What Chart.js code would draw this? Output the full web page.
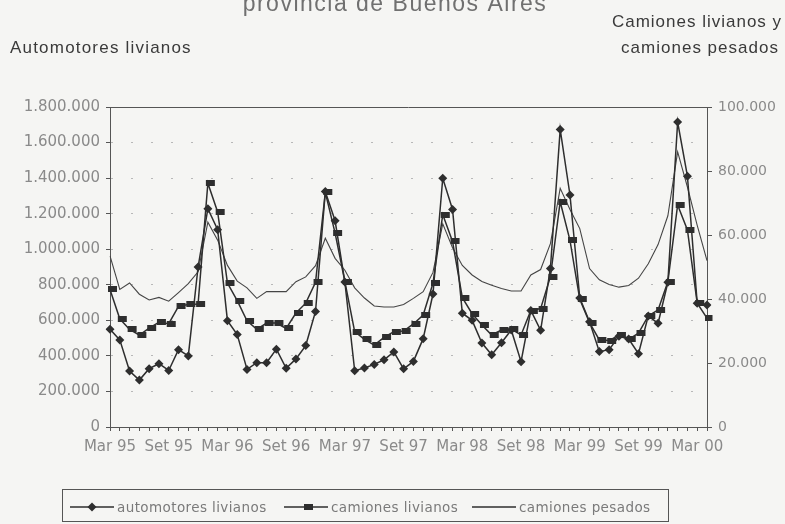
<!DOCTYPE html>
<html>
<head>
<meta charset="utf-8">
<script src="https://cdn.jsdelivr.net/npm/chart.js@4/dist/chart.umd.min.js"></script>
<style>
  body { margin: 0; background: #f5f5f3; }
  #grafico { display: block; }
</style>
</head>
<body>
<canvas id="grafico" width="785" height="524"></canvas>
<script>
// Meses (Mar 95 a Abr 00)
const meses = [
    'Mar 95', 'Abr 95', 'May 95', 'Jun 95', 'Jul 95', 'Ago 95', 'Set 95', 'Oct 95', 'Nov 95', 'Dic 95',
    'Ene 96', 'Feb 96', 'Mar 96', 'Abr 96', 'May 96', 'Jun 96', 'Jul 96', 'Ago 96', 'Set 96', 'Oct 96', 'Nov 96', 'Dic 96',
    'Ene 97', 'Feb 97', 'Mar 97', 'Abr 97', 'May 97', 'Jun 97', 'Jul 97', 'Ago 97', 'Set 97', 'Oct 97', 'Nov 97', 'Dic 97',
    'Ene 98', 'Feb 98', 'Mar 98', 'Abr 98', 'May 98', 'Jun 98', 'Jul 98', 'Ago 98', 'Set 98', 'Oct 98', 'Nov 98', 'Dic 98',
    'Ene 99', 'Feb 99', 'Mar 99', 'Abr 99', 'May 99', 'Jun 99', 'Jul 99', 'Ago 99', 'Set 99', 'Oct 99', 'Nov 99', 'Dic 99',
    'Ene 00', 'Feb 00', 'Mar 00', 'Abr 00'
];
// eje izquierdo
const automotoresLivianos = [
    550000, 490000, 315000, 264000, 328000, 356000, 318000, 435000, 400000, 900000,
    1228000, 1110000, 598000, 520000, 324000, 362000, 362000, 438000, 330000, 383000, 458000, 650000,
    1324000, 1160000, 815000, 317000, 332000, 352000, 378000, 422000, 327000, 369000, 497000, 748000,
    1399000, 1224000, 640000, 600000, 472000, 406000, 474000, 546000, 367000, 656000, 544000, 892000,
    1674000, 1305000, 726000, 592000, 424000, 435000, 510000, 495000, 412000, 625000, 583000, 814000,
    1715000, 1411000, 696000, 686000
];
// eje derecho
const camionesLivianos = [
    43000, 33800, 30500, 28750, 30900, 32700, 32300, 37700, 38300, 38400,
    76200, 67200, 45000, 39500, 33200, 30500, 32500, 32500, 30800, 35600, 38700, 45200,
    73300, 60600, 45400, 29800, 27400, 25600, 28000, 29800, 30000, 32200, 35000, 44900,
    66400, 58000, 40400, 35400, 31900, 28750, 30300, 30600, 28750, 36400, 37000, 47000,
    70400, 58300, 39900, 32600, 27200, 27000, 28750, 27400, 29300, 34700, 36600, 45400,
    69400, 61600, 38700, 34000
];
const camionesPesados = [
    53500, 43000, 45000, 41500, 39700, 40500, 39300, 42000, 44800, 48500,
    64000, 58400, 50500, 45600, 43500, 40200, 42300, 42300, 42300, 45400, 46900, 50400,
    59000, 52700, 49000, 43500, 40300, 37800, 37500, 37500, 38300, 40200, 42300, 48300,
    63500, 56000, 50500, 47500, 45500, 44300, 43300, 42500, 42500, 47500, 49200, 57300,
    74600, 68000, 62000, 49500, 46000, 44500, 43700, 44200, 46500, 51000, 57000, 66000,
    86000, 75000, 63000, 52000
];
const etiquetasEje = ['Mar 95', 'Set 95', 'Mar 96', 'Set 96', 'Mar 97', 'Set 97', 'Mar 98', 'Set 98', 'Mar 99', 'Set 99', 'Mar 00'];
const nombresSeries = ['automotores livianos', 'camiones livianos', 'camiones pesados'];

const TINTA = '#2e2e2e';
const GRIS_TEXTO = '#8a8a8a';

function miles(v) {
    return String(v).replace(/\B(?=(\d{3})+(?!\d))/g, '.');
}

// marca rectangular de camiones livianos
const marcaCamion = document.createElement('canvas');
marcaCamion.width = 16;
marcaCamion.height = 6;
const mc = marcaCamion.getContext('2d');
mc.fillStyle = TINTA;
mc.fillRect(6, 0, 9, 6);

function rombo(ctx, x, y, r) {
    ctx.beginPath();
    ctx.moveTo(x - r, y);
    ctx.lineTo(x, y - r);
    ctx.lineTo(x + r, y);
    ctx.lineTo(x, y + r);
    ctx.closePath();
    ctx.fill();
}

const textosYLeyenda = {
    id: 'textosYLeyenda',
    afterDraw(chart) {
        const ctx = chart.ctx;
        const a = chart.chartArea;
        ctx.save();
        // linea superior del marco
        ctx.strokeStyle = '#555';
        ctx.lineWidth = 1;
        ctx.beginPath();
        ctx.moveTo(a.left, Math.round(a.top) + 0.5);
        ctx.lineTo(a.right, Math.round(a.top) + 0.5);
        ctx.stroke();

        // titulos
        ctx.textBaseline = 'alphabetic';
        ctx.fillStyle = '#707070';
        ctx.font = '23px "Liberation Sans", Arial, sans-serif';
        ctx.letterSpacing = '1.5px';
        ctx.textAlign = 'center';
        ctx.fillText('provincia de Buenos Aires', 395, 11);

        ctx.fillStyle = '#3a3a3a';
        ctx.font = '17px "Liberation Sans", Arial, sans-serif';
        ctx.letterSpacing = '1.2px';
        ctx.textAlign = 'left';
        ctx.fillText('Automotores livianos', 10, 53);
        ctx.textAlign = 'center';
        ctx.letterSpacing = '1px';
        ctx.fillText('Camiones livianos y', 697, 27);
        ctx.fillText('camiones pesados', 700, 53);

        // leyenda
        ctx.letterSpacing = '0.4px';
        ctx.strokeStyle = '#555';
        ctx.strokeRect(62.5, 489.5, 606, 32);
        const xs = [70, 284, 472];
        const yl = 507;
        ctx.font = '13.5px "DejaVu Sans", sans-serif';
        ctx.textAlign = 'left';
        ctx.textBaseline = 'middle';
        for (let i = 0; i < 3; i++) {
            const x0 = xs[i];
            ctx.strokeStyle = TINTA;
            ctx.lineWidth = 1.5;
            ctx.beginPath();
            ctx.moveTo(x0, yl);
            ctx.lineTo(x0 + 44, yl);
            ctx.stroke();
            ctx.fillStyle = TINTA;
            if (i === 0) rombo(ctx, x0 + 22, yl, 4.5);
            if (i === 1) ctx.drawImage(marcaCamion, x0 + 22 - 8, yl - 3);
            ctx.fillStyle = '#7a7a7a';
            ctx.fillText(nombresSeries[i], x0 + 47, yl + 1);
        }
        ctx.restore();
    }
};

const fuenteEje = { family: '"DejaVu Sans", sans-serif', size: 15 };

new Chart(document.getElementById('grafico'), {
    type: 'line',
    data: {
        labels: meses,
        datasets: [{
            label: nombresSeries[0],
            data: automotoresLivianos,
            yAxisID: 'yIzq',
            borderColor: TINTA,
            backgroundColor: TINTA,
            borderWidth: 1.5,
            pointStyle: 'rectRot',
            pointRadius: 4.5,
            pointBorderWidth: 0,
            tension: 0
        }, {
            label: nombresSeries[1],
            data: camionesLivianos,
            yAxisID: 'yDer',
            borderColor: TINTA,
            backgroundColor: TINTA,
            borderWidth: 1.5,
            pointStyle: marcaCamion,
            pointRadius: 4,
            tension: 0
        }, {
            label: nombresSeries[2],
            data: camionesPesados,
            yAxisID: 'yDer',
            borderColor: '#454545',
            borderWidth: 1.1,
            pointRadius: 0,
            tension: 0
        }]
    },
    options: {
        responsive: false,
        animation: false,
        layout: { padding: { top: 107, bottom: 57, left: 0, right: 0 } },
        plugins: {
            legend: { display: false },
            tooltip: { enabled: false },
            title: { display: false }
        },
        scales: {
            x: {
                offset: false,
                grid: { drawOnChartArea: false, drawTicks: true, tickLength: 4, tickColor: '#555' },
                border: { display: true, color: '#555', width: 1 },
                ticks: {
                    autoSkip: false,
                    maxRotation: 0,
                    padding: 7,
                    color: GRIS_TEXTO,
                    font: fuenteEje,
                    callback: function (v, i) {
                        return etiquetasEje.includes(meses[i]) ? meses[i] : '';
                    }
                },
                afterFit: function (s) { s.height = 40; }
            },
            yIzq: {
                position: 'left',
                min: 0,
                max: 1800000,
                grid: { color: '#b8b8b8', lineWidth: 1, tickLength: 4, tickColor: '#555' },
                border: { display: true, color: '#555', width: 1, dash: [2, 18] },
                ticks: {
                    stepSize: 200000,
                    padding: 6,
                    color: GRIS_TEXTO,
                    font: fuenteEje,
                    callback: function (v) { return miles(v); }
                },
                afterFit: function (s) { s.width = 110; }
            },
            yDer: {
                position: 'right',
                min: 0,
                max: 100000,
                grid: { drawOnChartArea: false, tickLength: 5, tickColor: '#555' },
                border: { display: true, color: '#555', width: 1 },
                ticks: {
                    stepSize: 20000,
                    padding: 6,
                    color: GRIS_TEXTO,
                    font: { family: '"DejaVu Sans", sans-serif', size: 14 },
                    callback: function (v) { return miles(v); }
                },
                afterFit: function (s) { s.width = 78; }
            }
        }
    },
    plugins: [textosYLeyenda]
});
</script>
</body>
</html>
